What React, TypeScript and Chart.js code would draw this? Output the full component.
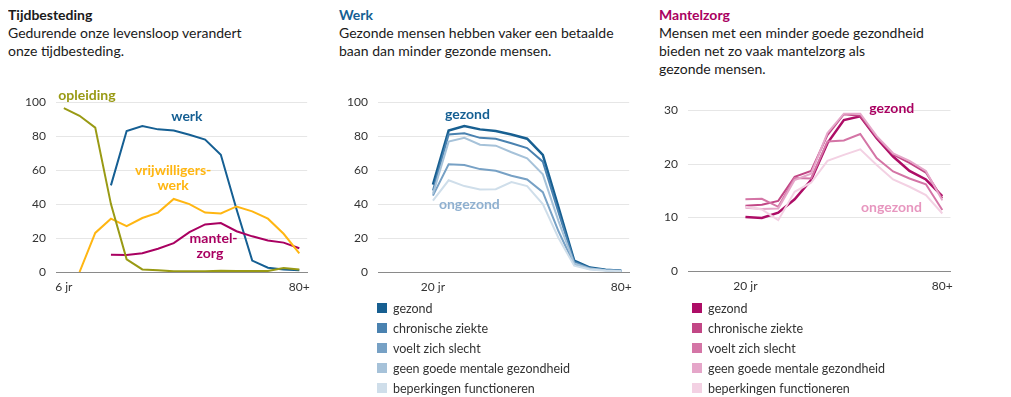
import React, { useEffect, useRef } from "react";
import { Chart, registerables } from "chart.js";

Chart.register(...registerables);

const FONT = "Lato, 'Noto Sans', sans-serif";

// Age categories (shared by all panels)
const ageLabels = ["6 jr", "12 jr", "16 jr", "20 jr", "25 jr", "30 jr", "35 jr", "40 jr", "45 jr", "50 jr", "55 jr", "60 jr", "65 jr", "70 jr", "75 jr", "80+"];
const shownTicksPanel1 = ["6 jr", "80+"];
const shownTicksPanel23 = ["20 jr", "80+"];

// Panel 1: Tijdbesteding (%)
const opleiding = [96.5, 92, 85, 40, 7.5, 1.5, 1, 0.4, 0.4, 0.5, 0.8, 0.6, 0.6, 0.6, 2.3, 1.5];
const vrijwilligerswerk = [null, 0, 23, 31.4, 27, 31.8, 35, 43, 40, 35, 34.5, 38.6, 35.7, 31.4, 22.5, 11];
const mantelzorg = [null, null, null, 10.2, 10, 11, 13.7, 17, 23.5, 28, 28.8, 24, 21, 18.6, 17.3, 14];
const werk = [null, null, null, 51, 83, 86, 84, 83.3, 80.8, 78, 69, 37, 6.7, 2.5, 1.5, 1];

// Panel 2: Werk by health group (%)
const werkGezond = [null, null, null, 51.5, 83.3, 86, 84, 83, 81, 78.5, 69, 38, 6.7, 2.6, 1.4, 0.8];
const werkChronisch = [null, null, null, 48, 81, 81.7, 79, 78.5, 75.8, 73, 65, 35, 6, 2.2, 1.2, 0.7];
const werkVoeltSlecht = [null, null, null, 45, 63.4, 63, 60.6, 59.6, 56.7, 54.5, 47, 24, 4.3, 1.8, 1, 0.6];
const werkMentaal = [null, null, null, 46, 76.8, 79, 75, 74.4, 70.5, 67, 57.5, 30, 5, 2, 1.1, 0.6];
const werkBeperking = [null, null, null, 42, 54, 50.6, 48.6, 48.8, 53, 50.6, 40, 20, 3.7, 1.5, 0.8, 0.5];

// Panel 3: Mantelzorg by health group (%)
const zorgGezond = [null, null, null, 10.1, 9.9, 10.9, 13.4, 17, 23.9, 28.2, 28.9, 24.8, 21.4, 18.7, 17.1, 14];
const zorgChronisch = [null, null, null, 12.2, 12.4, 13.1, 17.6, 18.7, 25.4, 29.3, 29, 25, 21.8, 20.2, 18.4, 13.6];
const zorgVoeltSlecht = [null, null, null, 13.4, 13.5, 12, 17.4, 17.3, 24.2, 24.4, 25.6, 21.1, 18.6, 17.3, 16.2, 11.4];
const zorgMentaal = [null, null, null, 11.8, 11.6, 11.7, 17, 18.2, 25.8, 29.4, 29.4, 25.2, 22, 20.6, 18.7, 13.2];
const zorgBeperking = [null, null, null, 12, 11.5, 9.5, 14.8, 16.5, 20.6, 21.7, 22.75, 19.8, 17.1, 15.75, 14.2, 10.75];

const groupNames = ["gezond", "chronische ziekte", "voelt zich slecht", "geen goede mentale gezondheid", "beperkingen functioneren"];
const blues = ["#175f91", "#4a82b0", "#77a1c5", "#a6c2d9", "#cfdeea"];
const pinks = ["#ad0d66", "#c24786", "#d475a6", "#e5a6c9", "#f3d1e3"];

const C_OLIVE = "#999a14";
const C_BLUE = "#155f93";
const C_ORANGE = "#ffb612";
const C_MAGENTA = "#a90061";

type Note = { text: string; x: number; y: number; color: string };

const notes1: Note[] = [
  { text: "opleiding", x: 1.47, y: 103.8, color: C_OLIVE },
  { text: "werk", x: 7.84, y: 91.4, color: C_BLUE },
  { text: "vrijwilligers-", x: 6.96, y: 60, color: C_ORANGE },
  { text: "werk", x: 6.96, y: 51, color: C_ORANGE },
  { text: "mantel-", x: 9.54, y: 20, color: C_MAGENTA },
  { text: "zorg", x: 9.3, y: 10.9, color: C_MAGENTA },
];
const notes2: Note[] = [
  { text: "gezond", x: 5.2, y: 92.5, color: C_BLUE },
  { text: "ongezond", x: 5.32, y: 39.8, color: "#8fb0d0" },
];
const notes3: Note[] = [
  { text: "gezond", x: 11.92, y: 30.45, color: C_MAGENTA },
  { text: "ongezond", x: 11.9, y: 11.9, color: "#e796bf" },
];

const notesPlugin = {
  id: "notes",
  afterDatasetsDraw(chart: any, _args: any, opts: any) {
    const items: Note[] = opts.items || [];
    const { ctx } = chart;
    const xs = chart.scales.x;
    const ys = chart.scales.y;
    ctx.save();
    ctx.font = `bold 14px ${FONT}`;
    ctx.textAlign = "center";
    ctx.textBaseline = "middle";
    for (const n of items) {
      ctx.fillStyle = n.color;
      ctx.fillText(n.text, xs.getPixelForValue(n.x), ys.getPixelForValue(n.y));
    }
    ctx.restore();
  },
};

function line(label: string, data: (number | null)[], color: string, width = 2) {
  return {
    label,
    data,
    borderColor: color,
    backgroundColor: color,
    borderWidth: width,
    pointRadius: 0,
    tension: 0,
    spanGaps: false,
  };
}

function makeOptions(max: number, step: number, shown: string[], notes: Note[], padTop: number, xHeight: number) {
  return {
    animation: false,
    responsive: false,
    maintainAspectRatio: false,
    layout: { padding: { top: padTop, right: 8, left: 0, bottom: 0 } },
    plugins: {
      legend: { display: false },
      tooltip: { enabled: false },
      notes: { items: notes },
    },
    scales: {
      x: {
        type: "category",
        offset: true,
        grid: { display: false, drawTicks: false },
        border: { display: true, color: "#8a8a8a", width: 1 },
        ticks: {
          autoSkip: false,
          maxRotation: 0,
          padding: 8,
          color: "#333",
          font: { family: FONT, size: 12 },
          callback: function (this: any, _v: any, i: number) {
            const l = ageLabels[i];
            return shown.includes(l) ? l : "";
          },
        },
        afterFit: (s: any) => {
          s.height = xHeight;
        },
      },
      y: {
        min: 0,
        max,
        grid: { color: "#e6e6e6", drawTicks: false, lineWidth: 1 },
        border: { display: false },
        ticks: { stepSize: step, padding: 10, color: "#333", font: { family: FONT, size: 12 } },
        afterFit: (s: any) => {
          s.width = 48;
        },
      },
    },
  };
}

function ChartCanvas(props: { config: any; left: number; top: number; width: number; height: number }) {
  const ref = useRef<HTMLCanvasElement | null>(null);
  useEffect(() => {
    if (!ref.current) return;
    const chart = new Chart(ref.current, props.config);
    return () => chart.destroy();
  }, []);
  return (
    <canvas
      ref={ref}
      width={props.width}
      height={props.height}
      style={{ position: "absolute", left: props.left, top: props.top, width: props.width, height: props.height }}
    />
  );
}

function TextBlock(props: { left: number; title: string; titleColor: string; lines: string[] }) {
  return (
    <div
      style={{
        position: "absolute",
        left: props.left,
        top: -2,
        fontFamily: FONT,
        fontSize: 14,
        lineHeight: "18px",
        color: "#1a1a1a",
        whiteSpace: "nowrap",
      }}
    >
      <div style={{ fontWeight: 700, color: props.titleColor }}>{props.title}</div>
      {props.lines.map((l, i) => (
        <div key={i}>{l}</div>
      ))}
    </div>
  );
}

function Legend(props: { left: number; colors: string[] }) {
  return (
    <div style={{ position: "absolute", left: props.left, top: 290, fontFamily: FONT, fontSize: 12.5, color: "#333" }}>
      {groupNames.map((n, i) => (
        <div key={n} style={{ display: "flex", alignItems: "center", height: 20 }}>
          <div style={{ width: 10, height: 10, background: props.colors[i], marginRight: 6 }} />
          <span>{n}</span>
        </div>
      ))}
    </div>
  );
}

export default function App() {
  const config1 = {
    type: "line",
    data: {
      labels: ageLabels,
      datasets: [
        line("opleiding", opleiding, C_OLIVE),
        line("vrijwilligerswerk", vrijwilligerswerk, C_ORANGE),
        line("mantelzorg", mantelzorg, C_MAGENTA),
        line("werk", werk, C_BLUE),
      ],
    },
    options: makeOptions(100, 20, shownTicksPanel1, notes1, 17, 28),
    plugins: [notesPlugin],
  };
  const werkSeries = [werkGezond, werkChronisch, werkVoeltSlecht, werkMentaal, werkBeperking];
  const config2 = {
    type: "line",
    data: {
      labels: ageLabels,
      datasets: werkSeries
        .map((d, i) => line(groupNames[i], d, blues[i], i === 0 ? 2.5 : 2))
        .reverse(),
    },
    options: makeOptions(100, 20, shownTicksPanel23, notes2, 17, 28),
    plugins: [notesPlugin],
  };
  const zorgSeries = [zorgGezond, zorgChronisch, zorgVoeltSlecht, zorgMentaal, zorgBeperking];
  const config3 = {
    type: "line",
    data: {
      labels: ageLabels,
      datasets: zorgSeries
        .map((d, i) => line(groupNames[i], d, pinks[i], i === 0 ? 2.5 : 2))
        .reverse(),
    },
    options: makeOptions(30, 10, shownTicksPanel23, notes3, 25.5, 29),
    plugins: [notesPlugin],
  };

  return (
    <div style={{ position: "relative", width: 1003, height: 389 }}>
      <TextBlock left={0} title="Tijdbesteding" titleColor="#1a1a1a" lines={["Gedurende onze levensloop verandert", "onze tijdbesteding."]} />
      <TextBlock left={331} title="Werk" titleColor="#155f93" lines={["Gezonde mensen hebben vaker een betaalde", "baan dan minder gezonde mensen."]} />
      <TextBlock
        left={651}
        title="Mantelzorg"
        titleColor={C_MAGENTA}
        lines={["Mensen met een minder goede gezondheid", "bieden net zo vaak mantelzorg als", "gezonde mensen."]}
      />
      <ChartCanvas config={config1} left={0} top={77} width={310} height={215} />
      <ChartCanvas config={config2} left={322} top={77} width={310} height={215} />
      <ChartCanvas config={config3} left={632} top={77} width={321} height={215} />
      <Legend left={369} colors={blues} />
      <Legend left={684} colors={pinks} />
    </div>
  );
}
